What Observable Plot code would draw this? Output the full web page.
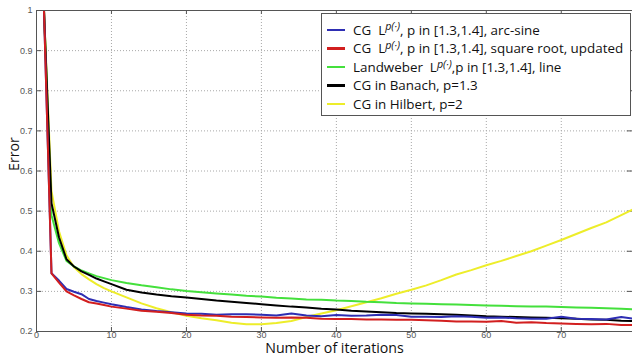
<!DOCTYPE html>
<html>
<head>
<meta charset="utf-8">
<script src="https://cdn.jsdelivr.net/npm/d3@7"></script>
<script src="https://cdn.jsdelivr.net/npm/@observablehq/plot@0.6"></script>
<style>
  html, body { margin: 0; padding: 0; background: #fff; }
  #wrap { position: relative; width: 632px; height: 359px; overflow: hidden; }
  #legend {
    position: absolute; left: 321px; top: 13px; width: 310px; height: 103px;
    background: #fff; border: 1px solid #555; box-sizing: border-box;
    font-family: "Open Sans", sans-serif; font-size: 13.4px; color: #111;
    padding-top: 6.5px;
  }
  .row { display: flex; align-items: center; height: 18.6px; line-height: 18.6px; white-space: nowrap; }
  .sw { width: 18px; height: 2.5px; margin-left: 5px; margin-right: 8px; flex: none; }
  .sup { position: relative; top: -0.38em; font-size: 0.8em; font-style: italic; line-height: 0; }
</style>
</head>
<body>
<div id="wrap"></div>
<script>
// ---- data ----
const iterations = [1,2,3,4,5,6,7,8,9,10,12,14,16,18,20,22,24,26,28,30,32,34,36,38,40,42,44,46,48,50,52,54,56,58,60,62,64,66,68,70,72,74,76,78,80];

const arcSine = [1.0,0.345,0.327,0.306,0.299,0.293,0.281,0.276,0.272,0.268,0.261,0.255,0.251,0.248,0.245,0.244,0.242,0.243,0.243,0.242,0.240,0.245,0.240,0.238,0.241,0.239,0.240,0.242,0.241,0.237,0.237,0.236,0.238,0.237,0.234,0.235,0.233,0.232,0.232,0.237,0.232,0.231,0.230,0.236,0.231];

const squareRoot = [1.0,0.345,0.322,0.300,0.290,0.281,0.273,0.270,0.266,0.262,0.257,0.252,0.249,0.246,0.242,0.240,0.239,0.237,0.236,0.235,0.234,0.235,0.234,0.232,0.231,0.231,0.230,0.230,0.229,0.229,0.228,0.227,0.225,0.225,0.224,0.226,0.222,0.223,0.221,0.220,0.219,0.218,0.219,0.216,0.216];

const landweber = [1.0,0.49,0.42,0.376,0.362,0.352,0.345,0.338,0.333,0.328,0.321,0.315,0.310,0.305,0.301,0.298,0.295,0.292,0.289,0.287,0.284,0.282,0.280,0.279,0.277,0.276,0.274,0.273,0.271,0.270,0.269,0.268,0.267,0.266,0.265,0.264,0.263,0.262,0.262,0.261,0.260,0.259,0.258,0.257,0.255];

const banach = [1.0,0.52,0.435,0.38,0.362,0.350,0.341,0.332,0.325,0.318,0.304,0.297,0.292,0.288,0.285,0.281,0.277,0.274,0.271,0.268,0.265,0.262,0.260,0.257,0.255,0.252,0.250,0.248,0.246,0.245,0.244,0.243,0.242,0.240,0.238,0.237,0.236,0.235,0.234,0.233,0.232,0.230,0.229,0.227,0.226];

const hilbert = [1.0,0.55,0.45,0.39,0.36,0.343,0.330,0.318,0.308,0.300,0.285,0.270,0.258,0.248,0.239,0.233,0.228,0.222,0.218,0.218,0.221,0.226,0.236,0.245,0.253,0.263,0.273,0.283,0.294,0.304,0.315,0.328,0.342,0.353,0.365,0.376,0.388,0.400,0.414,0.428,0.443,0.458,0.472,0.490,0.508];

const seriesNames = ["arcSine","squareRoot","landweber","banach","hilbert"];
const seriesValues = [arcSine, squareRoot, landweber, banach, hilbert];
const seriesColors = ["#2e2eb3","#d21f1f","#44e03c","#000000","#eded2a"];
const seriesLabels = [
  'CG&nbsp; L<span class="sup">p(·)</span>, p in [1.3,1.4], arc-sine',
  'CG&nbsp; L<span class="sup">p(·)</span>, p in [1.3,1.4], square root, updated',
  'Landweber&nbsp; L<span class="sup">p(·)</span>,p in [1.3,1.4], line',
  'CG in Banach, p=1.3',
  'CG in Hilbert, p=2'
];
// drawing order: yellow first, then others
const drawOrder = [4, 2, 3, 0, 1];

const xTicks = [0,10,20,30,40,50,60,70];
const yTicks = [0.2,0.3,0.4,0.5,0.6,0.7,0.8,0.9,1];
const yTickLabels = ["0.2","0.3","0.4","0.5","0.6","0.7","0.8","0.9","1"];

// ---- build table ----
const rows = [];
for (const s of drawOrder) {
  iterations.forEach((it, i) => rows.push({series: seriesNames[s], x: it, y: seriesValues[s][i]}));
}

const dotted = {stroke: "#a8a8a8", strokeOpacity: 1, strokeWidth: 1, strokeDasharray: "1,2"};

const chart = Plot.plot({
  width: 632,
  height: 359,
  marginLeft: 36,
  marginRight: 0,
  marginTop: 10,
  marginBottom: 28,
  style: {background: "#fff", fontFamily: "Liberation Sans, Arial, sans-serif"},
  x: {domain: [0, 79.5], label: null},
  y: {domain: [0.2, 1], label: null},
  color: {domain: seriesNames, range: seriesColors},
  marks: [
    Plot.ruleX(xTicks.filter(d => d > 0), {...dotted}),
    Plot.ruleY(yTicks.filter(d => d > 0.2 && d < 1), {...dotted}),
    // inward tick marks
    Plot.ruleX(xTicks.filter(d => d > 0), {y1: 0.2, y2: 0.21, stroke: "#555"}),
    Plot.ruleX(xTicks.filter(d => d > 0), {y1: 0.99, y2: 1, stroke: "#555"}),
    Plot.ruleY(yTicks, {x1: 0, x2: 0.7, stroke: "#555"}),
    Plot.ruleY(yTicks, {x1: 78.8, x2: 79.5, stroke: "#555"}),
    Plot.line(rows, {x: "x", y: "y", z: "series", stroke: "series", strokeWidth: 2, clip: true}),
    Plot.ruleY([0.2, 1], {stroke: "#555"}),
    Plot.ruleX([0], {stroke: "#555"}),
    Plot.axisX({ticks: xTicks, tickSize: 0, tickPadding: 0.5, fontSize: 9, fill: "#555", label: null}),
    Plot.axisY({ticks: yTicks, tickFormat: (d) => yTickLabels[yTicks.indexOf(d)], tickSize: 0, tickPadding: 4, fontSize: 9, fill: "#555", label: null}),
    Plot.text(["Number of iterations"], {frameAnchor: "bottom", dy: 21.5, text: d => d, fontSize: 14.2, fill: "#111", fontFamily: "Open Sans, sans-serif"}),
    Plot.text(["Error"], {frameAnchor: "left", dx: -22, rotate: -90, text: d => d, fontSize: 14.2, fill: "#111", fontFamily: "Open Sans, sans-serif"})
  ]
});

const wrap = document.getElementById("wrap");
wrap.appendChild(chart);

const legend = document.createElement("div");
legend.id = "legend";
seriesLabels.forEach((lab, i) => {
  const r = document.createElement("div");
  r.className = "row";
  r.innerHTML = `<span class="sw" style="background:${seriesColors[i]}"></span><span>${lab}</span>`;
  legend.appendChild(r);
});
wrap.appendChild(legend);
</script>
</body>
</html>
